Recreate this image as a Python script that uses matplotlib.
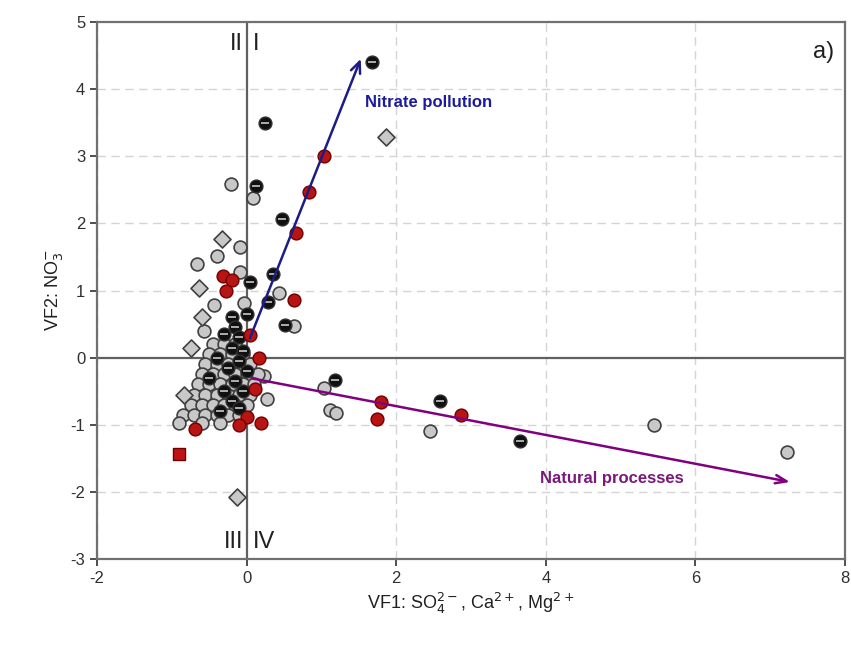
import matplotlib
matplotlib.use('Agg')
import matplotlib.pyplot as plt

plt.rcParams['font.family'] = ['Liberation Sans', 'DejaVu Sans']
plt.rcParams['axes.unicode_minus'] = False

# gray circles (VF1, VF2)
gray_x = [-0.21, 0.09, -0.09, -0.40, -0.66, -0.09, 0.43, -0.04, -0.44, -0.57, 0.63,
          1.04, 1.11, 1.20, 2.45, 5.45, 7.22, 0.27, 0.23,
          -0.45, -0.30, -0.15, -0.50, -0.35, -0.20, -0.05,
          -0.55, -0.40, -0.25, -0.10, 0.05,
          -0.60, -0.45, -0.30, -0.15, 0.00, 0.15,
          -0.65, -0.50, -0.35, -0.20, -0.05, 0.10,
          -0.70, -0.55, -0.40, -0.25, -0.10, 0.05,
          -0.75, -0.60, -0.45, -0.30, -0.15, 0.00,
          -0.85, -0.70, -0.55, -0.40, -0.25, -0.10,
          -0.90, -0.60, -0.35]
gray_y = [2.59, 2.38, 1.65, 1.52, 1.39, 1.27, 0.97, 0.82, 0.78, 0.39, 0.47,
          -0.45, -0.78, -0.82, -1.09, -1.00, -1.40, -0.61, -0.27,
          0.20, 0.20, 0.20, 0.05, 0.05, 0.05, 0.05,
          -0.10, -0.10, -0.10, -0.10, -0.10,
          -0.25, -0.25, -0.25, -0.25, -0.25, -0.25,
          -0.40, -0.40, -0.40, -0.40, -0.40, -0.40,
          -0.55, -0.55, -0.55, -0.55, -0.55, -0.55,
          -0.70, -0.70, -0.70, -0.70, -0.70, -0.70,
          -0.85, -0.85, -0.85, -0.85, -0.85, -0.85,
          -0.97, -0.97, -0.97]

# gray diamonds
diam_x = [1.86, -0.33, -0.63, -0.60, -0.84, -0.13, -0.75]
diam_y = [3.28, 1.77, 1.03, 0.60, -0.56, -2.07, 0.15]

# half black circles
half_x = [1.67, 0.24, 0.12, 0.47, 0.04, 0.35, 0.28, 0.51, 1.18, 2.58, 3.65,
          -0.20, -0.15, -0.10, -0.20, -0.05, -0.10, -0.25, 0.00, -0.15, -0.30,
          -0.05, -0.20, -0.35, -0.10, -0.50, -0.40, -0.30, 0.00]
half_y = [4.41, 3.50, 2.56, 2.07, 1.13, 1.24, 0.83, 0.48, -0.34, -0.64, -1.24,
          0.60, 0.45, 0.30, 0.15, 0.10, -0.05, -0.15, -0.20, -0.35, -0.50,
          -0.50, -0.65, -0.80, -0.75, -0.30, 0.00, 0.35, 0.65]

# red circles
red_x = [1.03, 0.84, 0.66, -0.31, -0.20, -0.27, 0.63, 0.04, 0.17, 0.11,
         0.00, -0.10, 0.19, -0.69, 1.80, 1.74, 2.87]
red_y = [3.00, 2.47, 1.86, 1.22, 1.15, 1.00, 0.86, 0.33, -0.01, -0.46,
         -0.88, -1.01, -0.98, -1.06, -0.66, -0.92, -0.85]

# red squares
sq_x = [-0.91]
sq_y = [-1.43]

fig = plt.figure(figsize=(8.51, 6.47), dpi=100)
ax = fig.add_axes([0.114, 0.136, 0.879, 0.830])

for v in [-2, 2, 4, 6, 8]:
    ax.axvline(v, color='#d4d4d4', linestyle=(0, (6, 4)), linewidth=1, zorder=0)
for v in [-2, -1, 1, 2, 3, 4]:
    ax.axhline(v, color='#d4d4d4', linestyle=(0, (6, 4)), linewidth=1, zorder=0)
ax.axvline(0, color='#606060', linewidth=1.6, zorder=1)
ax.axhline(0, color='#606060', linewidth=1.6, zorder=1)

ax.scatter(gray_x, gray_y, s=85, c='#c8c8c8', edgecolors='#404040', linewidths=1.2, zorder=3)
ax.scatter(diam_x, diam_y, s=75, marker='D', c='#c8c8c8', edgecolors='#404040', linewidths=1.2, zorder=3)
ax.scatter(half_x, half_y, s=85, c='#101010', edgecolors='#303030', linewidths=1.0, zorder=4)
ax.scatter(half_x, half_y, s=30, marker='_', c='#d8d8d8', linewidths=1.1, zorder=5)
ax.scatter(red_x, red_y, s=85, c='#b81414', edgecolors='#700000', linewidths=1.0, zorder=4)
ax.scatter(sq_x, sq_y, s=80, marker='s', c='#c01414', edgecolors='#700000', linewidths=1.0, zorder=4)

# arrows
ax.annotate('', xy=(1.54, 4.49), xytext=(0.03, 0.25),
            arrowprops=dict(arrowstyle='->,head_length=0.8,head_width=0.35',
                            color='#1c1c86', lw=1.8), zorder=6)
ax.annotate('', xy=(7.3, -1.86), xytext=(0.03, -0.30),
            arrowprops=dict(arrowstyle='->,head_length=0.8,head_width=0.3',
                            color='#800080', lw=1.8), zorder=6)
ax.text(1.58, 3.8, 'Nitrate pollution', color='#1c1c9a', fontsize=12,
        fontweight='bold', ha='left', va='center', zorder=7)
ax.text(4.88, -1.8, 'Natural processes', color='#7a1a7a', fontsize=12,
        fontweight='bold', ha='center', va='center', zorder=7)

# quadrant labels
ax.text(-0.05, 4.67, 'II', fontsize=17, ha='right', va='center', color='#202020')
ax.text(0.08, 4.67, 'I', fontsize=17, ha='left', va='center', color='#202020')
ax.text(-0.05, -2.74, 'III', fontsize=17, ha='right', va='center', color='#202020')
ax.text(0.08, -2.74, 'IV', fontsize=17, ha='left', va='center', color='#202020')
ax.text(0.985, 0.945, 'a)', transform=ax.transAxes, fontsize=17,
        ha='right', va='center', color='#202020')

ax.set_xlim(-2, 8)
ax.set_ylim(-3, 5)
ax.set_xticks([-2, 0, 2, 4, 6, 8])
ax.set_yticks(range(-3, 6))
ax.tick_params(direction='out', length=5, width=1.2, labelsize=12, colors='#303030')
for sp in ax.spines.values():
    sp.set_color('#707070')
    sp.set_linewidth(1.6)

ax.set_xlabel('VF1: SO$_4^{2-}$, Ca$^{2+}$, Mg$^{2+}$', fontsize=13, color='#202020')
ax.set_ylabel('VF2: NO$_3^{-}$', fontsize=13, color='#202020')

plt.savefig('out.png', dpi=100)
plt.close()
